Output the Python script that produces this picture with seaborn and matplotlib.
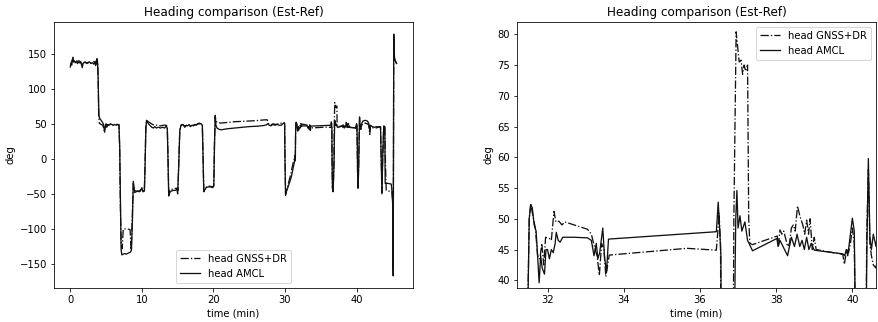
import matplotlib
matplotlib.use('Agg')
import matplotlib.pyplot as plt
import seaborn as sns
import pandas as pd

# Heading estimates (deg) over time (min)
t_gnss = [0.00, 0.15, 0.30, 0.40, 0.50, 0.65, 0.80, 1.00, 1.20, 1.40, 1.60, 1.70, 1.80, 2.00, 2.30, 2.60,
          2.90, 3.20, 3.45, 3.60, 3.72, 3.82, 3.90, 3.97, 4.05, 4.30, 4.55, 4.75, 4.90, 5.10, 5.30, 5.60,
          6.00, 6.40, 6.80, 6.90, 7.00, 7.10, 7.25, 7.40, 8.00, 8.35, 8.50, 8.65, 8.80, 8.95, 9.20, 9.60,
          10.00, 10.20, 10.35, 10.45, 10.55, 10.65, 10.90, 11.20, 11.50, 11.80, 12.20, 12.60, 13.00, 13.40,
          13.55, 13.65, 13.75, 13.95, 14.30, 14.70, 14.95, 15.05, 15.15, 15.30, 15.45, 15.70, 16.00, 16.40,
          16.80, 17.20, 17.60, 18.00, 18.30, 18.45, 18.55, 18.65, 18.85, 19.10, 19.50, 19.90, 20.05, 20.15,
          20.25, 20.35, 20.50, 21.00, 22.00, 23.00, 24.00, 25.00, 26.00, 27.00, 27.50, 27.70, 28.00, 28.30,
          28.70, 29.10, 29.50, 29.80, 29.95, 30.00, 30.08, 30.20, 30.40, 30.60, 30.80, 31.00, 31.20, 31.40,
          31.45, 31.48, 31.52, 31.56, 31.60, 31.68, 31.74, 31.80, 31.85, 31.90, 31.95, 32.05, 32.10, 32.17,
          32.22, 32.30, 32.38, 32.45, 33.05, 33.15, 33.25, 33.30, 33.36, 33.42, 33.48, 33.53, 33.62, 35.66,
          36.43, 36.47, 36.50, 36.54, 36.57, 36.63, 36.70, 36.78, 36.85, 36.89, 36.95, 36.99, 37.03, 37.08,
          37.12, 37.16, 37.20, 37.25, 37.28, 37.31, 37.38, 38.03, 38.06, 38.10, 38.15, 38.20, 38.30, 38.35,
          38.40, 38.45, 38.50, 38.56, 38.62, 38.70, 38.75, 38.80, 38.85, 38.89, 38.95, 39.00, 39.05, 39.75,
          39.79, 39.85, 39.90, 39.95, 40.00, 40.05, 40.08, 40.15, 40.20, 40.28, 40.34, 40.38, 40.42, 40.46,
          40.50, 40.55, 40.62, 40.70, 40.90, 41.20, 41.50, 41.70, 41.85, 41.95, 42.20, 42.50, 42.80, 43.10,
          43.35, 43.45, 43.55, 43.65, 43.80, 43.95, 44.05, 44.15, 44.50, 44.85, 44.95, 45.05, 45.12, 45.20,
          45.30, 45.45, 45.60]
gnss_deg = [133, 138, 142, 144, 140, 141, 140, 139, 140, 138, 135, 132, 137, 138, 137, 138,
            137, 138, 140, 135, 141, 139, 110, 60, 51, 49, 48, 40, 47, 49, 48, 49,
            48, 49, 49, 10, -70, -120, -128, -100, -100, -101, -130, -85, -35, -45, -46, -46,
            -43, -46, -45, -5, 45, 55, 53, 51, 49, 48, 48, 47, 48, 48,
            46, 5, -48, -44, -43, -42, -42, -45, -5, 42, 48, 49, 47, 48,
            47, 48, 49, 50, 50, 48, 5, -45, -42, -39, -39, -40, -38, 25,
            60, 55, 52, 51, 52, 53, 53.5, 54, 54.5, 55.5, 55.8, 50, 48, 50,
            49, 50, 51, 52, 51, 5, -50, -45, -38, -30, -22, -12, -3, 2,
            1, 35, 50, 52.5, 51, 48.5, 44, 43.5, 46, 42.5, 47, 46.8, 46.5, 51.2,
            49.5, 49.6, 49, 49.5, 48.3, 47.5, 45, 44, 40.8, 46, 45, 40.6, 44.1, 45.2,
            44.9, 48, 51, 46, 0, -42, -46, -28, 0, 50, 80.4, 78, 75.5, 75.8,
            73.5, 75, 74, 75, 50, 46, 45.8, 47.2, 45.5, 48.2, 47.5, 48, 45.5, 46,
            48.5, 49, 48, 52.1, 50.5, 49, 47.5, 49.8, 47.5, 50, 45, 47, 45, 44.2,
            42.6, 45, 44.5, 46, 48.5, 46, 30, -25, -40, -15, 20, 48, 58, 46,
            44, 42.5, 42, 47, 50, 51, 50, 48, 35, 46, 44, 45, 44, 46,
            45, 0, -48, 0, 46, 45, -10, -45, -46, -46, -47, -60, -160, 170,
            142, 139, 136]

t_amcl = [0.00, 0.10, 0.20, 0.30, 0.37, 0.45, 0.55, 0.70, 0.85, 1.00, 1.15, 1.30, 1.45, 1.60, 1.67, 1.75,
          1.90, 2.10, 2.30, 2.50, 2.70, 2.90, 3.10, 3.30, 3.45, 3.55, 3.65, 3.73, 3.80, 3.88, 3.95, 4.00,
          4.10, 4.30, 4.50, 4.65, 4.80, 4.90, 5.00, 5.10, 5.25, 5.40, 5.60, 5.80, 6.00, 6.20, 6.40, 6.60,
          6.80, 6.90, 7.00, 7.10, 7.20, 7.40, 7.60, 7.80, 8.00, 8.20, 8.40, 8.55, 8.70, 8.80, 8.90, 9.00,
          9.20, 9.40, 9.60, 9.80, 10.00, 10.15, 10.35, 10.45, 10.55, 10.65, 10.80, 11.00, 11.20, 11.40, 11.60, 11.80,
          12.00, 12.30, 12.60, 12.90, 13.20, 13.40, 13.55, 13.65, 13.75, 13.90, 14.10, 14.40, 14.70, 14.90, 15.00, 15.15,
          15.30, 15.45, 15.60, 15.80, 16.00, 16.20, 16.40, 16.60, 16.80, 17.00, 17.20, 17.40, 17.60, 17.80, 18.00, 18.30,
          18.45, 18.55, 18.65, 18.80, 19.00, 19.30, 19.60, 19.90, 20.05, 20.15, 20.25, 20.35, 20.50, 20.80, 21.10, 22.00,
          23.00, 24.00, 25.00, 26.00, 27.00, 27.40, 27.60, 27.80, 28.00, 28.30, 28.60, 28.90, 29.20, 29.50, 29.80, 29.95,
          30.00, 30.08, 30.15, 30.30, 30.50, 30.70, 30.90, 31.10, 31.30, 31.40, 31.44, 31.47, 31.52, 31.56, 31.60, 31.65,
          31.70, 31.74, 31.78, 31.82, 31.86, 31.92, 31.96, 32.00, 32.05, 32.10, 32.15, 32.20, 32.23, 32.28, 32.33, 32.40,
          32.70, 33.05, 33.15, 33.22, 33.28, 33.32, 33.37, 33.45, 33.50, 33.55, 33.60, 36.43, 36.48, 36.52, 36.55, 36.58,
          36.63, 36.70, 36.78, 36.86, 36.90, 36.94, 36.97, 37.00, 37.05, 37.10, 37.18, 37.25, 37.38, 38.02, 38.05, 38.10,
          38.18, 38.30, 38.40, 38.48, 38.55, 38.62, 38.68, 38.74, 38.80, 38.86, 38.92, 39.00, 39.75, 39.80, 39.84, 39.88,
          39.94, 40.00, 40.05, 40.08, 40.15, 40.20, 40.28, 40.33, 40.38, 40.42, 40.46, 40.50, 40.55, 40.62, 40.70, 40.90,
          41.20, 41.50, 41.70, 41.85, 41.95, 42.20, 42.50, 42.80, 43.10, 43.35, 43.45, 43.55, 43.65, 43.80, 43.95, 44.00,
          44.40, 44.85, 44.95, 45.05, 45.12, 45.20, 45.30, 45.40, 45.60]
amcl_deg = [131, 136, 134, 141, 145, 138, 140, 137, 139, 136, 138, 137, 139, 133, 130, 136,
            137, 138, 136, 137, 138, 136, 137, 135, 139, 133, 140, 143, 138, 120, 80, 62,
            58, 55, 52, 49, 38, 46, 50, 45, 49, 48, 50, 49, 48, 49, 48, 49,
            48, 20, -60, -130, -137, -136, -135, -136, -135, -134, -133, -130, -80, -32, -40, -48,
            -47, -46, -47, -46, -41, -47, -46, -10, 40, 55, 52, 49, 47, 45, 44, 46,
            44, 45, 44, 45, 44, 47, 44, 0, -53, -48, -46, -45, -45, -43, -50, -10,
            40, 47, 49, 48, 45, 48, 47, 49, 46, 48, 47, 49, 48, 50, 51, 50,
            48, 0, -47, -44, -41, -40, -40, -41, -39, 20, 62, 48, 44, 42, 41.5, 43,
            44, 45, 46, 46.5, 47.5, 48.5, 50, 48, 47, 49, 48, 49, 48, 48, 51, 50,
            0, -52, -48, -44, -38, -32, -25, -15, -5, 5, -3, 30, 50, 52.3, 51.8, 49,
            48, 44, 39.6, 44, 42, 41, 45, 45, 43.5, 45, 44.5, 46, 47.8, 46.5, 46.2, 47,
            47, 46.9, 46.5, 44, 46, 43.5, 44.5, 48.5, 43.5, 41.5, 46.7, 47.9, 52.7, 48, 44, 0,
            -40, -47, -30, -5, 30, 50, 54.6, 48.5, 50.5, 48, 49.5, 46.5, 44.8, 46.8, 45.5, 46.5,
            45.5, 44, 47, 45.5, 47.5, 45.5, 46.5, 45, 47, 45, 46, 44.9, 44.3, 44, 45, 44,
            47, 50.1, 48, 35, -20, -42, -20, 10, 45, 59.8, 47, 45, 47.5, 45.5, 50, 54,
            55, 54, 51, 40, 48, 46, 45, 46, 45, 46, 0, -50, 0, 47, 46, -35,
            -35, -36, -46, -65, -167, 178, 145, 140, 136]


def plot_heading(ax, df_gnss, df_amcl, legend_loc):
    """Draw both heading estimates on one axis"""
    sns.lineplot(data=df_gnss, x='time', y='deg', ax=ax, color='#111111', linestyle='-.',
                 linewidth=1.3, sort=False, estimator=None, label='head GNSS+DR')
    sns.lineplot(data=df_amcl, x='time', y='deg', ax=ax, color='#111111', linestyle='-',
                 linewidth=1.3, sort=False, estimator=None, label='head AMCL')
    ax.set_title('Heading comparison (Est-Ref)')
    ax.set_xlabel('time (min)')
    ax.set_ylabel('deg')
    ax.legend(loc=legend_loc)


def main():
    df_gnss = pd.DataFrame({'time': t_gnss, 'deg': gnss_deg})
    df_amcl = pd.DataFrame({'time': t_amcl, 'deg': amcl_deg})

    fig, (ax1, ax2) = plt.subplots(1, 2, figsize=(878 / 72, 322 / 72), dpi=72)
    plt.subplots_adjust(left=0.0615, right=0.9977, bottom=0.1056, top=0.9317, wspace=0.29)

    # full run
    plot_heading(ax1, df_gnss, df_amcl, 'lower center')

    # zoom on the 31-41 min stretch
    plot_heading(ax2, df_gnss, df_amcl, 'upper right')
    ax2.set_xlim(31.2, 40.62)
    ax2.set_ylim(38.75, 82)

    plt.savefig('out.png', dpi=72)
    plt.close()


if __name__ == "__main__":
    main()
